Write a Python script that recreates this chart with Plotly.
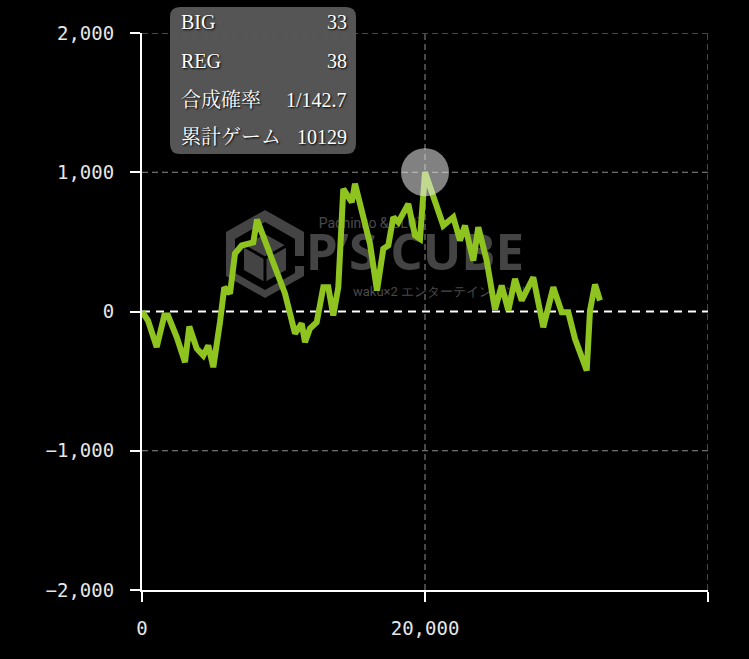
import plotly.graph_objects as go

# ---- data ----
games = [0, 424, 1039, 1576, 1837, 2452, 3039, 3343, 3866, 4332, 4685, 5039, 5512, 5816,
         6219, 6572, 7046, 7866, 8127, 8692, 9399, 10106, 10813, 11286, 11519, 11873,
         12346, 12813, 13166, 13519, 13873, 14226, 14820, 15053, 15527, 16113, 16608,
         17053, 17406, 17760, 18113, 18820, 19293, 19647, 20000, 20587, 21293, 22000,
         22473, 22827, 23413, 23767, 24360, 24947, 25420, 25887, 26360, 26834, 27654,
         28360, 29067, 29661, 30127, 30601, 31428, 31661, 32014, 32367]
diff = [0, -65, -256, -29, -29, -184, -364, -108, -266, -316, -244, -400, -77, 174,
        129, 416, 474, 497, 660, 497, 318, 129, -158, -86, -220, -122,
        -77, 174, 174, -29, 174, 881, 785, 917, 725, 486, 151,
        450, 474, 677, 641, 773, 546, 522, 1000, 820, 617, 677,
        510, 617, 366, 605, 366, 14, 187, 7, 235, 79, 246,
        -113, 174, -5, -5, -196, -424, 7, 194, 79]
hover_index = 44

x_tickvals = [0, 20000, 40000]
x_ticktext = ["0", "20,000", ""]
x_gridvals = [20000, 40000]
y_tickvals = [-2000, -1000, 0, 1000, 2000]
y_gridvals = [-1000, 1000, 2000]

tip_labels = ["BIG", "REG", "合成確率", "累計ゲーム"]
tip_values = ["33", "38", "1/142.7", "10129"]

# ---- layout constants ----
W, H = 749, 659
L, R, T, B = 142, 41, 33, 69
PW, PH = W - L - R, H - T - B


def fx(px):
    return (px - L) / PW


def fy(py):
    return (H - B - py) / PH


fig = go.Figure()
fig.add_trace(go.Scatter(x=games, y=diff, mode="lines",
                         line=dict(color="#8fc31f", width=6),
                         hoverinfo="skip", showlegend=False))
fig.add_trace(go.Scatter(x=[games[hover_index]], y=[diff[hover_index]], mode="markers",
                         marker=dict(size=48, color="rgba(235,235,235,0.55)", line=dict(width=0)),
                         hoverinfo="skip", showlegend=False))

shapes = []

# grid lines
for v in y_gridvals:
    shapes.append(dict(type="line", xref="paper", yref="y", x0=0, x1=1, y0=v, y1=v,
                       line=dict(color="#8f8f8f", width=1, dash="6px,4px"), layer="below"))
for v in x_gridvals:
    shapes.append(dict(type="line", xref="x", yref="paper", x0=v, x1=v, y0=0, y1=1,
                       line=dict(color="#8f8f8f", width=1, dash="6px,4px"), layer="below"))

# watermark logo (hexagon cube)
def hexpath(cx, cy, rx, ry):
    pts = [(cx, cy - ry), (cx + rx, cy - ry / 2), (cx + rx, cy + ry / 2),
           (cx, cy + ry), (cx - rx, cy + ry / 2), (cx - rx, cy - ry / 2)]
    return "M " + " L ".join(f"{fx(a):.5f},{fy(b):.5f}" for a, b in pts) + " Z"


cx, cy = 265, 254
shapes.append(dict(type="path", xref="paper", yref="paper", path=hexpath(cx, cy, 39, 44),
                   fillcolor="#444444", line=dict(width=0), layer="below"))
shapes.append(dict(type="path", xref="paper", yref="paper", path=hexpath(cx, cy + 2, 30, 34),
                   fillcolor="#000000", line=dict(width=0), layer="below"))
shapes.append(dict(type="path", xref="paper", yref="paper", path=hexpath(cx, cy + 4, 21, 24),
                   fillcolor="#444444", line=dict(width=0), layer="below"))
for (a, b) in [(cx, cy + 4 + 24), (cx - 21, cy + 4 - 12), (cx + 21, cy + 4 - 12)]:
    shapes.append(dict(type="line", xref="paper", yref="paper",
                       x0=fx(cx), y0=fy(cy + 4), x1=fx(a), y1=fy(b),
                       line=dict(color="#000000", width=3), layer="below"))
shapes.append(dict(type="rect", xref="paper", yref="paper",
                   x0=fx(cx + 28), x1=fx(cx + 40), y0=fy(cy + 12), y1=fy(cy + 2),
                   fillcolor="#000000", line=dict(width=0), layer="below"))


def label_box(cxp, cyp, w, h, text, size, color, weight="normal", family="Roboto"):
    return dict(type="rect", xref="paper", yref="paper",
                x0=fx(cxp - w / 2), x1=fx(cxp + w / 2), y0=fy(cyp + h / 2), y1=fy(cyp - h / 2),
                fillcolor="rgba(0,0,0,0)", line=dict(width=0), layer="below",
                label=dict(text=text, textposition="middle center",
                           font=dict(size=size, color=color, family=family, weight=weight)))


shapes.append(label_box(415, 254, 230, 50, "P’S CUBE", 51, "#444444", weight="bold",
                        family="Open Sans"))
shapes.append(label_box(372, 222, 130, 18, "Pachinko & SLOT", 14, "#4a4a4a"))
shapes.append(label_box(442, 290, 150, 18, "waku×2 エンターテインメント", 13, "#4a4a4a"))

# dashed zero line
shapes.append(dict(type="line", xref="paper", yref="y", x0=0, x1=1, y0=0, y1=0,
                   line=dict(color="#ffffff", width=2, dash="8px,6px"), layer="below"))

# tooltip rounded box
x0, x1, y0, y1, r = 170, 356, 7, 154, 10
pth = (f"M {fx(x0 + r)},{fy(y0)} L {fx(x1 - r)},{fy(y0)} Q {fx(x1)},{fy(y0)} {fx(x1)},{fy(y0 + r)} "
       f"L {fx(x1)},{fy(y1 - r)} Q {fx(x1)},{fy(y1)} {fx(x1 - r)},{fy(y1)} "
       f"L {fx(x0 + r)},{fy(y1)} Q {fx(x0)},{fy(y1)} {fx(x0)},{fy(y1 - r)} "
       f"L {fx(x0)},{fy(y0 + r)} Q {fx(x0)},{fy(y0)} {fx(x0 + r)},{fy(y0)} Z")
shapes.append(dict(type="path", xref="paper", yref="paper", path=pth,
                   fillcolor="rgba(88,88,88,0.96)", line=dict(width=0), layer="above"))

annotations = []
rows_y = [22, 61, 100, 137]
for lab, val, ry in zip(tip_labels, tip_values, rows_y):
    f = dict(family="Liberation Serif, Noto Serif CJK JP, Noto Sans CJK JP", size=20,
             color="#ffffff", shadow="1px 1px 2px #000")
    annotations.append(dict(xref="paper", yref="paper", x=fx(179), y=fy(ry), text=lab,
                            showarrow=False, xanchor="left", yanchor="middle", font=f))
    annotations.append(dict(xref="paper", yref="paper", x=fx(349), y=fy(ry), text=val,
                            showarrow=False, xanchor="right", yanchor="middle", font=f))

tickfont = dict(family="DejaVu Sans Mono", size=19, color="#e6e6e6")
fig.update_layout(
    width=W, height=H,
    margin=dict(l=L, r=R, t=T, b=B),
    paper_bgcolor="#000000", plot_bgcolor="#000000",
    showlegend=False,
    shapes=shapes, annotations=annotations,
    xaxis=dict(range=[0, 40000], tickvals=x_tickvals, ticktext=x_ticktext,
               showline=True, linecolor="#ffffff", linewidth=2,
               ticks="outside", ticklen=10, tickwidth=2, tickcolor="#ffffff",
               showgrid=False, zeroline=False, tickfont=tickfont, fixedrange=True,
               ticklabelstandoff=10),
    yaxis=dict(range=[-2000, 2000], tickvals=y_tickvals, tickformat=",",
               showline=True, linecolor="#ffffff", linewidth=2,
               ticks="outside", ticklen=10, tickwidth=2, tickcolor="#ffffff",
               showgrid=False, zeroline=False, tickfont=tickfont, fixedrange=True,
               ticklabelstandoff=12),
)

fig.write_html("out.html", config={"displayModeBar": False},
               post_script="document.body.style.margin='0';document.body.style.background='#000';")
